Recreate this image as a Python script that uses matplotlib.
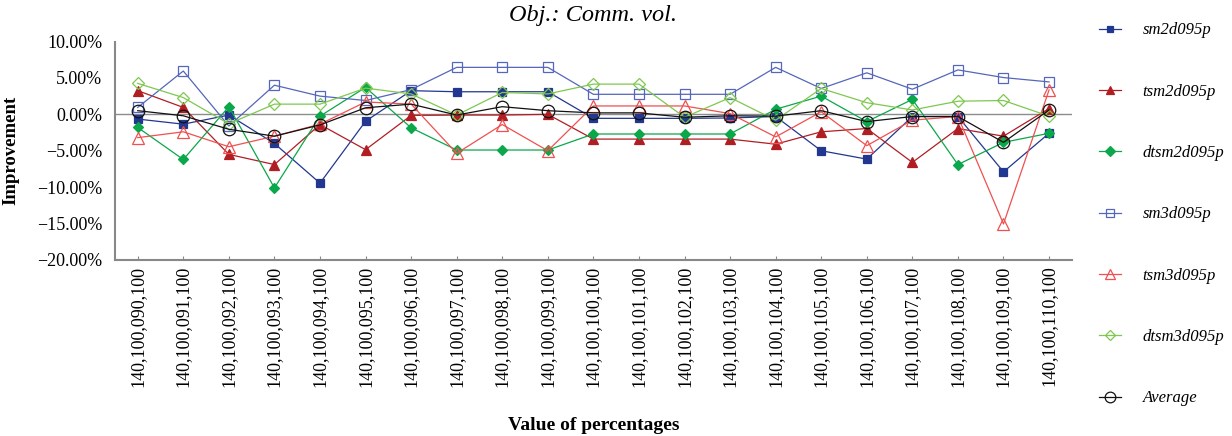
import matplotlib
matplotlib.use("Agg")
import matplotlib.pyplot as plt
from matplotlib.ticker import FuncFormatter
import numpy as np

plt.rcParams['font.family'] = ['Liberation Serif', 'DejaVu Serif']

# category labels
categories = ["140,100,%03d,100" % v for v in range(90, 111)]

# improvement values (%) per series
sm2d095p = [-0.65, -1.35, -0.1, -4.0, -9.45, -0.95, 3.25, 3.1, 3.1, 3.1, -0.55,
            -0.55, -0.55, -0.5, -0.3, -5.0, -6.15, -0.3, -0.3, -7.9, -2.6]
tsm2d095p = [3.25, 0.95, -5.5, -6.9, -1.4, -4.85, -0.15, -0.1, -0.1, 0.0, -3.4,
             -3.4, -3.4, -3.4, -4.1, -2.4, -1.95, -6.6, -1.95, -3.0, 0.8]
dtsm2d095p = [-1.8, -6.2, 1.05, -10.1, -0.25, 3.7, -1.85, -4.9, -4.9, -4.9, -2.7,
              -2.7, -2.7, -2.7, 0.7, 2.5, -1.0, 2.05, -6.9, -3.85, -2.6]
sm3d095p = [0.95, 5.95, -1.6, 4.0, 2.5, 1.9, 3.4, 6.45, 6.45, 6.45, 2.75,
            2.75, 2.75, 2.75, 6.45, 3.55, 5.7, 3.45, 6.1, 5.05, 4.45]
tsm3d095p = [-3.2, -2.4, -4.45, -3.0, -1.35, 1.7, 1.4, -5.35, -1.4, -5.0, 1.15,
             1.15, 1.15, 0.1, -3.1, 0.35, -4.3, -0.8, -0.3, -15.05, 3.35]
dtsm3d095p = [4.25, 2.3, -1.3, 1.4, 1.4, 3.6, 2.8, -0.1, 3.0, 2.8, 4.15,
              4.15, -0.4, 2.3, -0.8, 3.55, 1.6, 0.6, 1.8, 1.9, -0.25]
average = [0.5, -0.2, -2.05, -3.0, -1.45, 0.9, 1.4, -0.1, 1.05, 0.5, 0.2,
           0.2, -0.4, -0.2, -0.25, 0.5, -1.0, -0.3, -0.3, -3.85, 0.6]

fig = plt.figure(figsize=(12.32, 4.36), dpi=100)
ax = fig.add_axes([0.0933, 0.4037, 0.7767, 0.5011])

x = np.arange(len(categories))
ax.axhline(0, color='#8c8c8c', lw=1.0, zorder=1)

# (data, label, color, marker, filled, size)
series = [
    (sm2d095p, 'sm2d095p', '#22378f', 's', True, 5.5),
    (tsm2d095p, 'tsm2d095p', '#b01e24', '^', True, 7),
    (dtsm2d095p, 'dtsm2d095p', '#0aa84a', 'D', True, 5.5),
    (sm3d095p, 'sm3d095p', '#5566bb', 's', False, 6.5),
    (tsm3d095p, 'tsm3d095p', '#f05050', '^', False, 8),
    (dtsm3d095p, 'dtsm3d095p', '#7ec850', 'D', False, 6.5),
    (average, 'Average', '#111111', 'o', False, 9),
]
for vals, lab, col, mk, filled, ms in series:
    ax.plot(x, vals, color=col, lw=0.9, marker=mk, markersize=ms,
            markerfacecolor=col if filled else 'none',
            markeredgecolor=col, markeredgewidth=0.9, label=lab, zorder=3)

ax.set_xlim(-0.5, len(categories) - 0.5)
ax.set_ylim(-20, 10)
ax.set_yticks([10, 5, 0, -5, -10, -15, -20])
ax.yaxis.set_major_formatter(FuncFormatter(
    lambda v, p: ("%.2f%%" % v).replace('-', '\u2212')))
ax.set_xticks(x)
ax.set_xticklabels(categories, rotation=90, fontsize=13)
ax.tick_params(axis='y', labelsize=13, length=0, pad=9)
ax.tick_params(axis='x', direction='in', length=3, color='#888888', pad=4)

for s in ['top', 'right']:
    ax.spines[s].set_visible(False)
for s in ['left', 'bottom']:
    ax.spines[s].set_color('#888888')
    ax.spines[s].set_linewidth(1.5)

ax.set_title('Obj.: Comm. vol.', fontsize=17.5, style='italic', pad=15)
ax.set_ylabel('Improvement', fontsize=13.5, fontweight='bold', labelpad=13)
ax.set_xlabel('Value of percentages', fontsize=14, fontweight='bold', labelpad=22)

leg = fig.legend(loc='upper left', bbox_to_anchor=(0.880, 0.983), frameon=False,
                 prop={'size': 12, 'style': 'italic'}, labelspacing=2.72,
                 handlelength=1.3, handletextpad=1.3, markerscale=0.85)

fig.savefig('out.png', dpi=100)
